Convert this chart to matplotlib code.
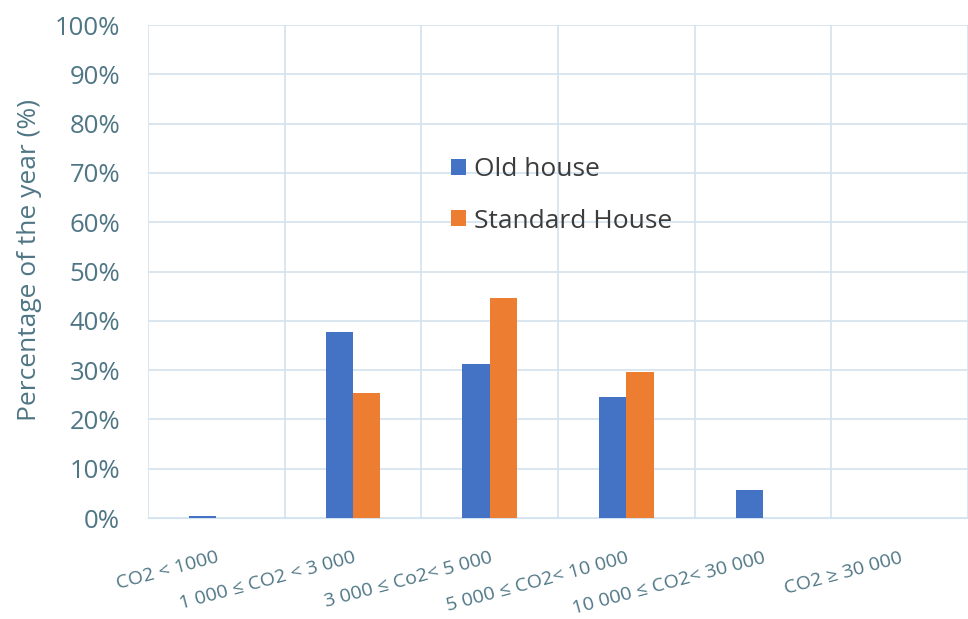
import matplotlib

matplotlib.use("Agg")
import matplotlib.pyplot as plt  # noqa: E402
import numpy as np  # noqa: E402
from matplotlib.ticker import FixedLocator, PercentFormatter  # noqa: E402

# share of the year spent in each CO2 band (ppm)
categories = [
    "CO2 < 1000",
    "1 000 \u2264 CO2 < 3 000",
    "3 000 \u2264 Co2< 5 000",
    "5 000 \u2264 CO2< 10 000",
    "10 000 \u2264 CO2< 30 000",
    "CO2 \u2265 30 000",
]
old_house = [0.4, 37.8, 31.3, 24.6, 5.7, 0.0]
standard_house = [0.0, 25.4, 44.6, 29.6, 0.0, 0.0]

BLUE = "#4472C4"
ORANGE = "#ED7D31"
TEXT = "#4f7685"
GRID = "#d3e3ef"

plt.rcParams["font.family"] = ["Open Sans", "DejaVu Sans"]

fig = plt.figure(figsize=(9.68, 6.19), dpi=100)
ax = fig.add_axes([0.1529, 0.163, 0.847, 0.7965])

x = np.arange(len(categories))
w = 0.2
ax.bar(x - w / 2, old_house, w, color=BLUE, label="Old house", zorder=3)
ax.bar(x + w / 2, standard_house, w, color=ORANGE, label="Standard House", zorder=3)

ax.set_xlim(-0.5, len(categories) - 0.5)
ax.set_ylim(0, 100)
ax.yaxis.set_major_locator(FixedLocator(np.arange(0, 101, 10)))
ax.yaxis.set_major_formatter(PercentFormatter(decimals=0))
ax.xaxis.set_minor_locator(FixedLocator(np.arange(-0.5, len(categories), 1)))
ax.set_xticks(x)
ax.set_xticklabels(categories, rotation=15, ha="right", va="top",
                   rotation_mode="anchor", fontsize=14, color=TEXT)

ax.grid(axis="y", which="major", color=GRID, lw=1.2, zorder=0)
ax.grid(axis="x", which="minor", color=GRID, lw=1.2, zorder=0)
ax.tick_params(axis="both", which="both", length=0)
ax.tick_params(axis="y", labelsize=18.5, labelcolor=TEXT, pad=20)
ax.tick_params(axis="x", pad=22)
for side in ["top", "right", "left"]:
    ax.spines[side].set_visible(False)
ax.spines["bottom"].set_color(GRID)

ax.set_ylabel("Percentage of the year (%)", fontsize=19, color=TEXT)
ax.yaxis.set_label_coords(-0.129, 0.523)

ax.legend(loc="upper left", bbox_to_anchor=(0.341, 0.78), frameon=False,
          fontsize=19, labelcolor="#3c3c3c", handlelength=0.55, handleheight=0.55,
          handletextpad=0.3, labelspacing=1.0)

fig.savefig("out.png", dpi=100)
